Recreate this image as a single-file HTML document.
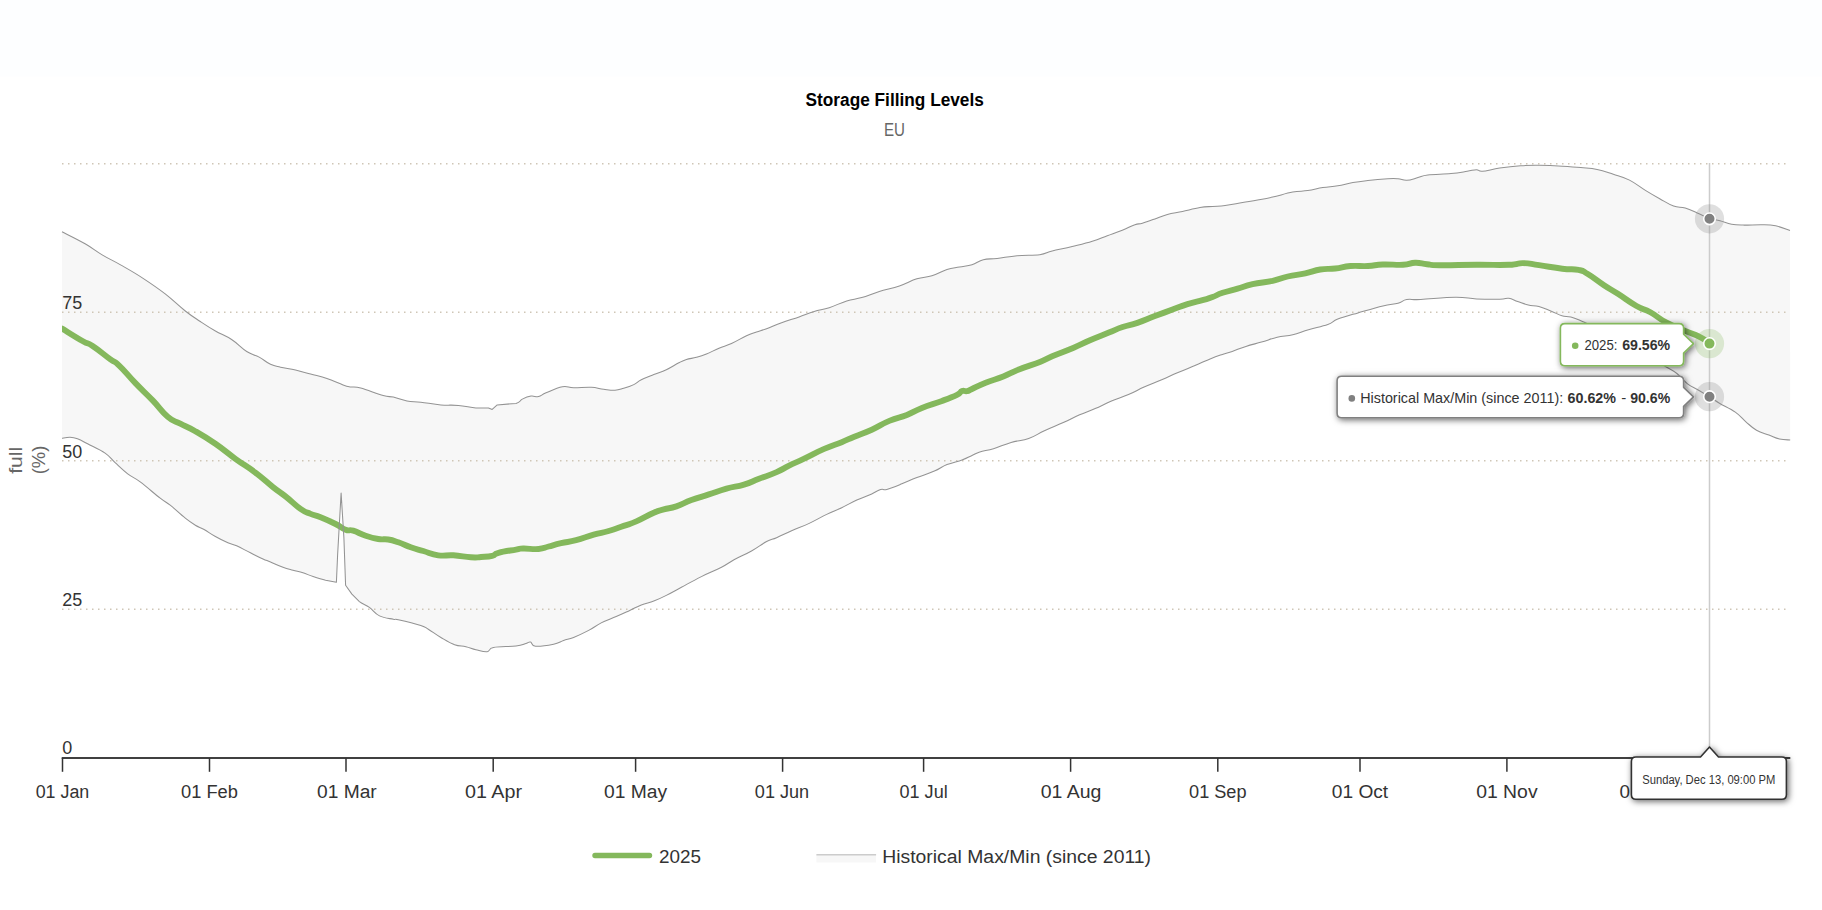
<!DOCTYPE html>
<html><head><meta charset="utf-8"><title>Storage Filling Levels</title>
<style>html,body{margin:0;padding:0;background:#fff;}body{width:1822px;height:910px;overflow:hidden;}svg{display:block;font-family:"Liberation Sans",sans-serif;}</style></head><body>
<svg width="1822" height="910" viewBox="0 0 1822 910">
<defs><clipPath id="plot"><rect x="62" y="150" width="1728" height="608"/></clipPath><filter id="ds" x="-20%" y="-50%" width="140%" height="200%"><feDropShadow dx="1.5" dy="1.5" stdDeviation="3" flood-color="#000000" flood-opacity="0.6"/></filter></defs>
<rect x="0" y="0" width="1822" height="910" fill="#ffffff"/>
<rect x="0" y="0" width="1822" height="76.5" fill="#fdfeff"/>
<path d="M62.0 231.8 C66.6 234.2 77.0 239.1 85.1 243.8 C93.2 248.5 95.6 250.9 102.6 255.1 C109.6 259.3 112.1 260.0 120.1 264.6 C128.1 269.2 133.7 272.2 142.7 278.1 C151.7 284.0 156.7 287.3 165.2 293.9 C173.7 300.5 178.3 305.5 185.3 311.0 C192.3 316.5 194.3 317.5 200.3 321.5 C206.3 325.5 209.1 327.4 215.4 331.0 C221.7 334.6 225.3 335.4 231.6 339.5 C237.9 343.6 241.2 348.0 246.7 351.5 C252.2 355.0 254.4 354.5 259.2 357.1 C264.0 359.7 266.2 362.3 270.5 364.3 C274.8 366.3 275.5 366.1 280.5 367.3 C285.5 368.5 289.5 368.7 295.5 370.1 C301.5 371.5 304.3 372.4 310.6 374.1 C316.9 375.8 320.4 376.2 326.9 378.4 C333.4 380.6 338.3 383.2 343.1 384.9 C347.9 386.6 347.2 386.3 350.7 386.9 C354.2 387.5 354.2 386.4 360.7 388.1 C367.2 389.8 376.7 393.8 383.2 395.6 C389.7 397.4 388.5 396.0 393.3 397.1 C398.1 398.2 401.5 399.9 407.0 400.9 C412.5 401.9 414.0 401.4 420.8 402.2 C427.6 403.0 433.4 404.3 440.9 404.9 C448.4 405.5 451.4 404.8 458.4 405.4 C465.4 406.0 469.9 407.4 475.9 407.9 L488.5 407.9 L492.2 409.4 L497.2 404.9 L516.0 403.4 C521.0 402.2 519.3 400.6 522.3 399.1 C525.3 397.6 527.7 396.6 531.0 396.1 C534.3 395.6 535.6 397.3 538.6 396.6 C541.6 395.9 541.3 394.8 546.1 392.8 C550.9 390.8 556.9 387.8 562.4 386.8 C567.9 385.8 567.8 387.7 573.6 387.8 C579.4 387.9 585.2 387.0 591.2 387.3 C597.2 387.6 598.9 388.7 603.7 389.3 C608.5 389.9 611.0 390.5 615.0 390.3 C619.0 390.1 619.9 389.4 623.7 388.3 C627.5 387.2 630.3 386.3 633.8 384.6 C637.3 382.9 637.3 381.8 641.3 379.8 C645.3 377.8 648.8 376.6 653.8 374.6 C658.8 372.6 661.3 372.2 666.3 369.8 C671.3 367.4 674.9 364.9 678.9 362.8 C682.9 360.7 682.9 360.6 686.4 359.5 C689.9 358.4 692.4 358.4 696.4 357.3 C700.4 356.2 701.9 355.8 706.4 354.0 C710.9 352.2 714.0 350.3 719.0 348.2 C724.0 346.1 726.0 346.0 731.5 343.5 C737.0 341.0 741.5 338.0 746.5 335.7 C751.5 333.4 752.5 333.4 756.5 332.0 C760.5 330.6 761.6 330.6 766.6 328.7 C771.6 326.8 775.1 325.1 781.6 322.7 C788.1 320.3 792.6 319.2 799.1 316.9 C805.6 314.6 808.2 313.2 814.2 311.4 C820.2 309.6 822.7 309.8 829.2 307.7 C835.7 305.6 840.2 302.9 846.7 300.9 C853.2 298.9 855.3 299.5 861.8 297.6 C868.3 295.7 871.8 293.7 879.3 291.4 C886.8 289.1 891.9 288.4 899.4 285.9 C906.9 283.4 910.4 280.8 916.9 278.8 C923.4 276.8 925.9 277.6 931.9 275.8 C937.9 274.0 941.5 271.3 947.0 269.6 C952.5 267.9 954.5 268.1 959.5 267.1 C964.5 266.1 967.2 266.3 972.0 264.8 C976.8 263.3 978.3 261.0 983.3 259.7 C988.3 258.4 990.3 259.3 997.1 258.5 C1003.9 257.7 1008.6 256.5 1017.1 255.7 C1025.6 254.9 1032.7 255.6 1039.7 254.7 C1046.7 253.8 1045.7 252.6 1052.2 251.0 C1058.7 249.4 1064.2 248.5 1072.2 246.5 C1080.2 244.5 1085.3 243.4 1092.3 241.2 C1099.3 239.0 1101.3 237.9 1107.3 235.7 C1113.3 233.5 1116.8 232.4 1122.3 230.2 C1127.8 228.0 1130.9 226.1 1134.9 224.7 C1138.9 223.3 1138.4 224.4 1142.4 223.2 C1146.4 222.0 1149.9 220.7 1154.9 218.9 C1159.9 217.1 1161.9 215.9 1167.4 214.4 C1172.9 212.9 1176.0 212.8 1182.5 211.4 C1189.0 210.0 1194.0 208.6 1200.0 207.6 C1206.0 206.6 1207.5 206.8 1212.5 206.4 C1217.5 206.0 1219.1 206.4 1225.1 205.6 C1231.1 204.8 1236.1 203.7 1242.6 202.6 C1249.1 201.5 1251.6 201.2 1257.6 200.1 C1263.6 199.0 1265.7 198.7 1272.7 197.1 C1279.7 195.5 1285.7 193.4 1292.7 192.1 C1299.7 190.8 1301.8 191.5 1307.8 190.6 C1313.8 189.7 1316.8 188.6 1322.8 187.6 C1328.8 186.6 1331.8 186.8 1337.8 185.8 C1343.8 184.8 1346.9 183.6 1352.9 182.6 C1358.9 181.6 1360.9 181.4 1367.9 180.6 C1374.9 179.8 1381.9 179.2 1387.9 178.8 C1393.9 178.4 1394.2 178.5 1398.0 178.8 C1401.8 179.1 1402.7 180.5 1406.7 180.3 C1410.7 180.1 1413.8 178.7 1418.0 177.6 C1422.2 176.5 1421.2 175.8 1427.8 175.0 C1434.4 174.2 1443.1 174.3 1451.0 173.6 C1458.9 172.9 1462.1 172.1 1467.2 171.3 C1472.3 170.5 1473.5 169.7 1476.5 169.7 C1479.5 169.7 1477.7 171.6 1482.3 171.3 C1486.9 171.0 1492.0 169.2 1499.7 168.1 C1507.4 167.0 1512.7 166.4 1520.6 165.8 C1528.5 165.2 1530.8 165.2 1539.1 165.3 C1547.4 165.4 1554.0 165.7 1562.3 166.2 C1570.6 166.7 1573.8 166.9 1580.8 167.6 C1587.8 168.3 1590.6 168.2 1597.1 169.5 C1603.6 170.8 1606.8 172.2 1613.3 174.3 C1619.8 176.4 1623.0 176.8 1629.5 180.1 C1636.0 183.4 1639.8 186.9 1645.8 190.6 C1651.8 194.3 1654.1 195.6 1659.7 198.7 C1665.3 201.8 1668.5 204.2 1673.6 206.1 C1678.7 208.0 1680.1 206.5 1685.2 208.0 C1690.3 209.5 1694.2 211.7 1699.1 213.8 C1704.0 215.9 1705.3 217.0 1709.5 218.4 C1713.7 219.8 1715.6 219.5 1720.0 220.7 C1724.4 221.9 1727.0 223.3 1731.6 224.2 C1736.2 225.1 1737.1 225.0 1743.1 225.1 C1749.1 225.2 1755.2 224.6 1761.7 224.7 C1768.2 224.8 1769.9 224.6 1775.6 225.8 C1781.3 227.0 1787.1 229.6 1790.0 230.5 L1790.2 440.0 C1788.1 439.8 1783.8 440.0 1779.5 439.0 C1775.2 438.0 1773.5 436.8 1768.9 435.1 C1764.3 433.4 1761.1 433.0 1756.5 430.3 C1751.9 427.6 1750.1 425.4 1745.9 421.8 C1741.7 418.2 1740.6 415.8 1735.3 412.1 C1730.0 408.4 1724.5 406.2 1719.4 403.2 C1714.3 400.2 1713.9 399.6 1709.7 397.0 C1705.5 394.4 1702.6 392.6 1698.2 390.0 C1693.8 387.4 1691.8 387.1 1687.5 383.8 C1683.2 380.5 1681.1 376.9 1676.9 373.5 C1672.7 370.1 1670.7 369.7 1666.3 367.0 C1661.9 364.3 1660.3 363.2 1655.0 360.0 C1649.7 356.8 1647.0 355.1 1640.0 351.0 C1633.0 346.9 1628.0 343.8 1620.0 339.5 C1612.0 335.2 1607.4 333.0 1600.0 329.5 C1592.6 326.0 1589.0 324.3 1583.2 321.8 C1577.4 319.3 1575.1 318.3 1570.8 317.1 C1566.5 315.9 1565.8 316.9 1561.9 315.7 C1558.0 314.5 1555.9 313.0 1551.3 311.2 C1546.7 309.4 1543.5 307.7 1538.9 306.5 C1534.3 305.3 1532.5 306.0 1528.3 305.0 C1524.1 304.0 1521.6 302.8 1517.7 301.5 C1513.8 300.2 1512.3 298.8 1508.8 298.3 C1505.3 297.8 1506.5 299.1 1500.0 299.2 C1493.5 299.3 1485.4 299.3 1476.5 298.9 C1467.6 298.5 1466.7 297.1 1455.6 297.2 C1444.5 297.3 1430.7 299.0 1420.9 299.5 C1411.1 300.0 1411.3 298.8 1406.7 299.6 C1402.1 300.4 1402.8 302.0 1398.0 303.3 C1393.2 304.6 1390.9 304.0 1382.9 305.9 C1374.9 307.8 1366.9 310.3 1357.9 312.9 C1348.9 315.5 1343.8 316.8 1337.8 319.1 C1331.8 321.4 1333.7 322.5 1327.8 324.6 C1321.9 326.7 1315.5 327.7 1308.5 329.7 C1301.5 331.7 1299.1 333.3 1292.8 334.8 C1286.5 336.3 1283.5 335.7 1277.2 337.2 C1270.9 338.7 1267.8 340.3 1261.5 342.1 C1255.2 343.9 1251.8 344.5 1245.9 346.4 C1240.0 348.3 1236.9 349.8 1232.2 351.4 C1227.5 353.0 1226.7 352.9 1222.4 354.4 C1218.1 355.9 1216.2 356.5 1210.7 358.7 C1205.2 360.9 1201.7 362.7 1195.0 365.5 C1188.3 368.3 1184.1 369.9 1177.4 372.8 C1170.7 375.7 1168.4 376.9 1161.7 379.8 C1155.0 382.7 1150.7 384.2 1144.1 387.1 C1137.5 390.0 1135.1 391.7 1128.5 394.5 C1121.9 397.3 1117.6 398.5 1110.9 401.3 C1104.2 404.1 1101.5 405.9 1095.2 408.6 C1088.9 411.3 1085.9 412.1 1079.6 414.8 C1073.3 417.5 1070.9 419.1 1063.9 422.3 C1056.9 425.5 1051.4 427.5 1044.4 430.7 C1037.4 433.9 1035.4 436.2 1028.7 438.5 C1022.0 440.8 1018.1 440.4 1011.1 442.4 C1004.1 444.4 999.8 446.8 993.5 448.7 C987.2 450.6 984.1 450.6 979.8 452.0 C975.5 453.4 975.6 453.9 972.0 455.5 C968.4 457.1 967.0 458.2 962.0 460.0 C957.0 461.8 952.5 462.4 947.0 464.6 C941.5 466.8 940.4 468.5 934.4 471.1 C928.4 473.7 923.4 475.1 916.9 477.6 C910.4 480.1 907.9 481.4 901.9 483.8 C895.9 486.2 891.1 488.2 886.8 489.4 C882.5 490.6 884.1 488.5 880.6 489.6 C877.1 490.7 874.1 493.0 869.3 495.1 C864.5 497.2 862.3 497.6 856.8 500.1 C851.3 502.6 847.7 504.8 841.7 507.7 C835.7 510.6 833.2 511.3 826.7 514.4 C820.2 517.5 816.2 520.1 809.2 523.4 C802.2 526.7 798.1 527.8 791.6 530.7 C785.1 533.6 781.6 535.5 776.6 537.7 C771.6 539.9 771.6 538.8 766.6 541.5 C761.6 544.2 758.0 547.3 751.5 551.0 C745.0 554.7 740.0 556.5 734.0 559.8 C728.0 563.1 728.0 563.9 721.5 567.3 C715.0 570.7 709.4 572.6 701.4 576.6 C693.4 580.6 688.4 583.5 681.4 587.3 C674.4 591.1 671.8 592.6 666.3 595.4 C660.8 598.2 658.8 599.2 653.8 601.1 C648.8 603.0 646.3 602.9 641.3 604.9 C636.3 606.9 633.8 608.6 628.8 610.9 C623.8 613.2 621.7 614.2 616.2 616.6 C610.7 619.0 606.7 620.1 601.2 622.9 C595.7 625.7 594.2 627.5 588.7 630.4 C583.2 633.3 578.6 635.4 573.6 637.4 C568.6 639.4 567.6 639.1 563.6 640.5 C559.6 641.9 559.2 643.1 553.6 644.2 C548.0 645.3 540.1 646.6 535.5 646.2 C530.9 645.8 532.4 642.5 530.5 642.0 C528.6 641.5 528.9 642.7 526.0 643.5 C523.1 644.3 522.5 645.2 516.0 646.0 C509.5 646.8 499.3 646.4 493.5 647.5 C487.7 648.6 490.7 651.3 487.2 651.7 C483.7 652.1 480.2 650.7 475.9 649.7 C471.6 648.7 470.2 647.7 465.9 646.7 C461.6 645.7 459.6 646.5 454.6 644.7 C449.6 642.9 446.2 640.6 440.9 637.5 C435.6 634.4 432.3 631.6 428.3 629.2 C424.3 626.8 426.8 627.3 420.8 625.4 C414.8 623.5 403.8 620.9 398.3 619.7 C392.8 618.5 397.1 620.0 393.3 619.2 C389.5 618.4 384.3 618.3 379.5 615.9 C374.7 613.5 373.4 610.3 369.4 607.4 C365.4 604.5 362.9 604.3 359.4 601.6 L351.9 594.1 L345.6 585.3 L343.9 537.7 L341.1 493.1 L337.6 555.3 L336.4 582.3 L325.6 580.3 C320.9 579.2 317.6 578.1 313.1 576.6 C308.6 575.1 307.0 574.1 303.0 572.8 C299.0 571.5 297.0 571.4 293.0 570.3 C289.0 569.2 287.5 569.0 283.0 567.3 C278.5 565.6 274.5 563.7 270.5 562.0 C266.5 560.3 267.0 560.8 263.0 559.0 C259.0 557.2 255.7 555.4 250.4 552.8 C245.1 550.2 241.1 547.8 236.6 545.8 C232.1 543.8 232.1 544.7 227.9 542.8 C223.7 540.9 220.2 539.2 215.4 536.5 C210.6 533.8 208.1 531.8 204.1 529.5 C200.1 527.2 199.1 527.5 195.3 525.2 C191.5 522.9 190.3 522.2 185.3 518.2 C180.3 514.2 175.2 509.2 170.2 505.2 C165.2 501.2 166.2 502.9 160.2 498.2 C154.2 493.5 146.7 486.8 140.2 481.9 C133.7 477.0 132.7 477.7 127.7 473.8 C122.7 469.9 119.6 466.7 115.1 462.6 C110.6 458.5 110.6 456.9 105.1 453.1 C99.6 449.3 93.1 446.7 87.6 443.8 C82.1 440.9 81.0 440.1 77.5 438.8 C74.0 437.5 73.1 437.4 70.0 437.3 C66.9 437.2 63.6 438.1 62.0 438.3 Z" fill="#f7f7f7" stroke="none"/>
<line x1="62.0" y1="163.8" x2="1790.0" y2="163.8" stroke="#cfc6b6" stroke-width="1.5" stroke-dasharray="1.5 4.5"/>
<line x1="62.0" y1="312.2" x2="1790.0" y2="312.2" stroke="#cfc6b6" stroke-width="1.5" stroke-dasharray="1.5 4.5"/>
<line x1="62.0" y1="460.8" x2="1790.0" y2="460.8" stroke="#cfc6b6" stroke-width="1.5" stroke-dasharray="1.5 4.5"/>
<line x1="62.0" y1="609.3" x2="1790.0" y2="609.3" stroke="#cfc6b6" stroke-width="1.5" stroke-dasharray="1.5 4.5"/>
<line x1="1709.5" y1="163" x2="1709.5" y2="758.0" stroke="#cccccc" stroke-width="1.5"/>
<path d="M62.0 328.5 C67.1 331.6 74.8 336.6 82.5 341.0 C90.2 345.4 85.7 341.5 92.6 346.0 C99.5 350.5 103.5 354.3 110.1 359.1 C116.7 363.9 112.6 359.4 118.9 365.3 C125.2 371.2 126.8 374.1 135.2 382.9 C143.6 391.7 144.6 391.9 152.7 400.4 C160.8 408.8 160.8 410.9 167.7 416.7 C174.6 422.5 173.4 420.1 180.3 423.7 C187.2 427.3 186.5 426.2 195.3 431.2 C204.1 436.2 205.4 436.9 215.4 443.8 C225.4 450.7 225.4 451.6 235.4 458.8 C245.4 466.0 246.0 465.5 255.4 472.6 C264.8 479.7 265.5 481.2 273.0 487.1 C280.5 493.1 278.6 490.9 285.5 496.4 C292.4 501.8 294.2 504.5 300.5 508.9 C306.8 513.3 305.6 511.8 310.6 513.9 C315.6 516.0 314.4 514.7 320.6 517.2 C326.9 519.7 329.4 520.9 335.6 524.0 C341.9 527.1 341.2 528.0 345.6 529.7 C350.0 531.4 348.2 529.2 353.2 530.7 C358.2 532.2 359.4 533.6 365.7 535.7 C371.9 537.8 372.6 538.0 378.2 539.0 C383.8 540.0 383.2 538.7 388.2 539.5 C393.2 540.3 392.6 540.3 398.3 542.3 C404.0 544.2 404.6 545.1 410.8 547.3 C417.1 549.5 416.4 549.0 423.3 551.0 C430.2 553.0 430.8 554.2 438.3 555.3 C445.8 556.4 445.2 554.8 453.4 555.3 C461.5 555.8 464.0 556.9 470.9 557.3 C477.8 557.7 475.7 557.4 481.0 557.0 C486.3 556.6 487.8 556.8 492.2 555.8 C496.6 554.8 492.6 554.3 498.5 552.8 C504.4 551.2 509.8 550.7 516.0 549.6 C522.2 548.5 517.9 548.6 523.5 548.5 C529.1 548.4 532.3 549.5 538.6 549.0 C544.9 548.5 543.0 548.0 548.6 546.5 C554.2 545.0 554.2 544.8 561.1 543.2 C568.0 541.6 568.0 542.3 576.1 540.2 C584.2 538.1 585.6 537.0 593.7 534.7 C601.9 532.4 601.2 533.2 608.7 531.0 C616.2 528.8 616.8 528.3 623.7 525.9 C630.6 523.5 628.8 524.7 636.3 521.4 C643.8 518.1 646.9 515.7 653.8 512.7 C660.7 509.7 658.1 511.0 663.8 509.4 C669.4 507.8 669.5 508.7 676.4 506.4 C683.3 504.1 683.3 503.1 691.4 500.1 C699.5 497.1 700.1 497.3 708.9 494.4 C717.7 491.5 717.7 491.1 726.5 488.6 C735.3 486.2 735.9 487.1 744.0 484.6 C752.1 482.2 750.9 481.9 759.0 478.8 C767.1 475.7 769.1 475.4 776.6 472.1 C784.1 468.8 782.2 469.0 789.1 465.6 C796.0 462.2 795.4 462.8 804.2 458.6 C813.0 454.4 814.8 453.0 824.2 448.9 C833.6 444.8 834.2 445.2 841.7 442.2 C849.2 439.1 846.8 439.8 854.3 436.7 C861.8 433.6 863.0 433.6 871.8 429.7 C880.5 425.8 880.5 424.6 889.3 420.9 C898.1 417.2 898.8 418.1 906.9 414.9 C915.0 411.6 913.1 411.4 921.9 407.9 C930.7 404.4 933.2 404.2 942.0 400.9 C950.8 397.6 952.0 397.2 957.0 394.8 C962.0 392.4 959.5 392.0 962.0 391.1 C964.5 390.2 964.5 391.6 967.0 391.1 C969.5 390.6 967.3 391.1 972.0 389.0 C976.7 386.9 977.9 385.8 985.7 382.7 C993.5 379.6 995.0 379.8 1003.3 376.5 C1011.6 373.2 1009.6 373.2 1018.9 369.5 C1028.2 365.8 1032.2 365.1 1040.5 361.8 C1048.8 358.5 1043.9 359.7 1052.2 356.2 C1060.5 352.7 1064.4 351.6 1073.7 347.7 C1083.0 343.8 1080.6 344.3 1089.4 340.5 C1098.2 336.7 1100.6 336.0 1108.9 332.6 C1117.2 329.2 1115.5 329.4 1122.6 327.0 C1129.7 324.6 1129.3 325.6 1137.4 322.9 C1145.5 320.2 1146.1 319.4 1154.9 316.1 C1163.7 312.8 1164.3 312.6 1172.5 309.6 C1180.7 306.6 1180.0 306.5 1187.5 304.1 C1195.0 301.8 1196.2 301.9 1202.5 300.2 C1208.8 298.4 1207.5 299.0 1212.5 297.1 C1217.5 295.2 1216.3 294.9 1222.6 292.8 C1228.9 290.7 1230.1 290.8 1237.6 288.6 C1245.1 286.4 1243.8 286.1 1252.6 284.1 C1261.4 282.2 1263.9 282.7 1272.7 280.8 C1281.5 278.9 1279.6 278.4 1287.7 276.5 C1295.8 274.6 1297.2 275.1 1305.3 273.3 C1313.4 271.6 1312.8 270.7 1320.3 269.5 C1327.8 268.3 1327.8 269.4 1335.3 268.5 C1342.8 267.6 1342.2 266.6 1350.4 266.0 C1358.6 265.4 1359.8 266.4 1367.9 266.0 C1376.0 265.6 1374.1 264.8 1382.9 264.5 C1391.7 264.2 1395.0 265.2 1403.0 264.8 C1411.0 264.4 1409.1 263.0 1415.1 262.8 C1421.1 262.6 1420.9 263.6 1427.0 264.2 C1433.1 264.8 1427.0 265.0 1439.4 265.2 C1451.8 265.4 1459.1 264.9 1476.5 264.8 C1493.9 264.7 1497.4 265.2 1509.0 264.8 C1520.6 264.4 1515.4 263.0 1522.9 263.1 C1530.4 263.2 1529.2 263.8 1539.1 265.2 C1548.9 266.6 1552.4 267.5 1562.3 268.7 C1572.2 269.9 1572.1 268.6 1578.5 269.9 C1584.9 271.2 1581.4 270.2 1587.8 274.0 C1594.2 277.8 1596.5 280.2 1604.0 285.2 C1611.5 290.1 1609.8 288.6 1617.9 293.8 C1626.0 299.0 1628.4 301.4 1636.5 306.0 C1644.6 310.6 1642.9 308.1 1650.4 312.3 C1657.9 316.5 1657.9 318.1 1666.6 322.7 C1675.3 327.3 1677.1 327.4 1685.2 330.9 C1693.3 334.4 1693.0 333.6 1699.1 336.6 C1705.2 339.6 1706.9 341.3 1709.5 342.9" fill="none" stroke="#84b85c" stroke-width="5.9" stroke-linejoin="round" stroke-linecap="round" clip-path="url(#plot)"/>
<path d="M62.0 231.8 C66.6 234.2 77.0 239.1 85.1 243.8 C93.2 248.5 95.6 250.9 102.6 255.1 C109.6 259.3 112.1 260.0 120.1 264.6 C128.1 269.2 133.7 272.2 142.7 278.1 C151.7 284.0 156.7 287.3 165.2 293.9 C173.7 300.5 178.3 305.5 185.3 311.0 C192.3 316.5 194.3 317.5 200.3 321.5 C206.3 325.5 209.1 327.4 215.4 331.0 C221.7 334.6 225.3 335.4 231.6 339.5 C237.9 343.6 241.2 348.0 246.7 351.5 C252.2 355.0 254.4 354.5 259.2 357.1 C264.0 359.7 266.2 362.3 270.5 364.3 C274.8 366.3 275.5 366.1 280.5 367.3 C285.5 368.5 289.5 368.7 295.5 370.1 C301.5 371.5 304.3 372.4 310.6 374.1 C316.9 375.8 320.4 376.2 326.9 378.4 C333.4 380.6 338.3 383.2 343.1 384.9 C347.9 386.6 347.2 386.3 350.7 386.9 C354.2 387.5 354.2 386.4 360.7 388.1 C367.2 389.8 376.7 393.8 383.2 395.6 C389.7 397.4 388.5 396.0 393.3 397.1 C398.1 398.2 401.5 399.9 407.0 400.9 C412.5 401.9 414.0 401.4 420.8 402.2 C427.6 403.0 433.4 404.3 440.9 404.9 C448.4 405.5 451.4 404.8 458.4 405.4 C465.4 406.0 469.9 407.4 475.9 407.9 L488.5 407.9 L492.2 409.4 L497.2 404.9 L516.0 403.4 C521.0 402.2 519.3 400.6 522.3 399.1 C525.3 397.6 527.7 396.6 531.0 396.1 C534.3 395.6 535.6 397.3 538.6 396.6 C541.6 395.9 541.3 394.8 546.1 392.8 C550.9 390.8 556.9 387.8 562.4 386.8 C567.9 385.8 567.8 387.7 573.6 387.8 C579.4 387.9 585.2 387.0 591.2 387.3 C597.2 387.6 598.9 388.7 603.7 389.3 C608.5 389.9 611.0 390.5 615.0 390.3 C619.0 390.1 619.9 389.4 623.7 388.3 C627.5 387.2 630.3 386.3 633.8 384.6 C637.3 382.9 637.3 381.8 641.3 379.8 C645.3 377.8 648.8 376.6 653.8 374.6 C658.8 372.6 661.3 372.2 666.3 369.8 C671.3 367.4 674.9 364.9 678.9 362.8 C682.9 360.7 682.9 360.6 686.4 359.5 C689.9 358.4 692.4 358.4 696.4 357.3 C700.4 356.2 701.9 355.8 706.4 354.0 C710.9 352.2 714.0 350.3 719.0 348.2 C724.0 346.1 726.0 346.0 731.5 343.5 C737.0 341.0 741.5 338.0 746.5 335.7 C751.5 333.4 752.5 333.4 756.5 332.0 C760.5 330.6 761.6 330.6 766.6 328.7 C771.6 326.8 775.1 325.1 781.6 322.7 C788.1 320.3 792.6 319.2 799.1 316.9 C805.6 314.6 808.2 313.2 814.2 311.4 C820.2 309.6 822.7 309.8 829.2 307.7 C835.7 305.6 840.2 302.9 846.7 300.9 C853.2 298.9 855.3 299.5 861.8 297.6 C868.3 295.7 871.8 293.7 879.3 291.4 C886.8 289.1 891.9 288.4 899.4 285.9 C906.9 283.4 910.4 280.8 916.9 278.8 C923.4 276.8 925.9 277.6 931.9 275.8 C937.9 274.0 941.5 271.3 947.0 269.6 C952.5 267.9 954.5 268.1 959.5 267.1 C964.5 266.1 967.2 266.3 972.0 264.8 C976.8 263.3 978.3 261.0 983.3 259.7 C988.3 258.4 990.3 259.3 997.1 258.5 C1003.9 257.7 1008.6 256.5 1017.1 255.7 C1025.6 254.9 1032.7 255.6 1039.7 254.7 C1046.7 253.8 1045.7 252.6 1052.2 251.0 C1058.7 249.4 1064.2 248.5 1072.2 246.5 C1080.2 244.5 1085.3 243.4 1092.3 241.2 C1099.3 239.0 1101.3 237.9 1107.3 235.7 C1113.3 233.5 1116.8 232.4 1122.3 230.2 C1127.8 228.0 1130.9 226.1 1134.9 224.7 C1138.9 223.3 1138.4 224.4 1142.4 223.2 C1146.4 222.0 1149.9 220.7 1154.9 218.9 C1159.9 217.1 1161.9 215.9 1167.4 214.4 C1172.9 212.9 1176.0 212.8 1182.5 211.4 C1189.0 210.0 1194.0 208.6 1200.0 207.6 C1206.0 206.6 1207.5 206.8 1212.5 206.4 C1217.5 206.0 1219.1 206.4 1225.1 205.6 C1231.1 204.8 1236.1 203.7 1242.6 202.6 C1249.1 201.5 1251.6 201.2 1257.6 200.1 C1263.6 199.0 1265.7 198.7 1272.7 197.1 C1279.7 195.5 1285.7 193.4 1292.7 192.1 C1299.7 190.8 1301.8 191.5 1307.8 190.6 C1313.8 189.7 1316.8 188.6 1322.8 187.6 C1328.8 186.6 1331.8 186.8 1337.8 185.8 C1343.8 184.8 1346.9 183.6 1352.9 182.6 C1358.9 181.6 1360.9 181.4 1367.9 180.6 C1374.9 179.8 1381.9 179.2 1387.9 178.8 C1393.9 178.4 1394.2 178.5 1398.0 178.8 C1401.8 179.1 1402.7 180.5 1406.7 180.3 C1410.7 180.1 1413.8 178.7 1418.0 177.6 C1422.2 176.5 1421.2 175.8 1427.8 175.0 C1434.4 174.2 1443.1 174.3 1451.0 173.6 C1458.9 172.9 1462.1 172.1 1467.2 171.3 C1472.3 170.5 1473.5 169.7 1476.5 169.7 C1479.5 169.7 1477.7 171.6 1482.3 171.3 C1486.9 171.0 1492.0 169.2 1499.7 168.1 C1507.4 167.0 1512.7 166.4 1520.6 165.8 C1528.5 165.2 1530.8 165.2 1539.1 165.3 C1547.4 165.4 1554.0 165.7 1562.3 166.2 C1570.6 166.7 1573.8 166.9 1580.8 167.6 C1587.8 168.3 1590.6 168.2 1597.1 169.5 C1603.6 170.8 1606.8 172.2 1613.3 174.3 C1619.8 176.4 1623.0 176.8 1629.5 180.1 C1636.0 183.4 1639.8 186.9 1645.8 190.6 C1651.8 194.3 1654.1 195.6 1659.7 198.7 C1665.3 201.8 1668.5 204.2 1673.6 206.1 C1678.7 208.0 1680.1 206.5 1685.2 208.0 C1690.3 209.5 1694.2 211.7 1699.1 213.8 C1704.0 215.9 1705.3 217.0 1709.5 218.4 C1713.7 219.8 1715.6 219.5 1720.0 220.7 C1724.4 221.9 1727.0 223.3 1731.6 224.2 C1736.2 225.1 1737.1 225.0 1743.1 225.1 C1749.1 225.2 1755.2 224.6 1761.7 224.7 C1768.2 224.8 1769.9 224.6 1775.6 225.8 C1781.3 227.0 1787.1 229.6 1790.0 230.5" fill="none" stroke="#939393" stroke-width="1.05" stroke-linejoin="round"/>
<path d="M62.0 438.3 C63.6 438.1 66.9 437.2 70.0 437.3 C73.1 437.4 74.0 437.5 77.5 438.8 C81.0 440.1 82.1 440.9 87.6 443.8 C93.1 446.7 99.6 449.3 105.1 453.1 C110.6 456.9 110.6 458.5 115.1 462.6 C119.6 466.7 122.7 469.9 127.7 473.8 C132.7 477.7 133.7 477.0 140.2 481.9 C146.7 486.8 154.2 493.5 160.2 498.2 C166.2 502.9 165.2 501.2 170.2 505.2 C175.2 509.2 180.3 514.2 185.3 518.2 C190.3 522.2 191.5 522.9 195.3 525.2 C199.1 527.5 200.1 527.2 204.1 529.5 C208.1 531.8 210.6 533.8 215.4 536.5 C220.2 539.2 223.7 540.9 227.9 542.8 C232.1 544.7 232.1 543.8 236.6 545.8 C241.1 547.8 245.1 550.2 250.4 552.8 C255.7 555.4 259.0 557.2 263.0 559.0 C267.0 560.8 266.5 560.3 270.5 562.0 C274.5 563.7 278.5 565.6 283.0 567.3 C287.5 569.0 289.0 569.2 293.0 570.3 C297.0 571.4 299.0 571.5 303.0 572.8 C307.0 574.1 308.6 575.1 313.1 576.6 C317.6 578.1 320.9 579.2 325.6 580.3 L336.4 582.3 L337.6 555.3 L341.1 493.1 L343.9 537.7 L345.6 585.3 L351.9 594.1 L359.4 601.6 C362.9 604.3 365.4 604.5 369.4 607.4 C373.4 610.3 374.7 613.5 379.5 615.9 C384.3 618.3 389.5 618.4 393.3 619.2 C397.1 620.0 392.8 618.5 398.3 619.7 C403.8 620.9 414.8 623.5 420.8 625.4 C426.8 627.3 424.3 626.8 428.3 629.2 C432.3 631.6 435.6 634.4 440.9 637.5 C446.2 640.6 449.6 642.9 454.6 644.7 C459.6 646.5 461.6 645.7 465.9 646.7 C470.2 647.7 471.6 648.7 475.9 649.7 C480.2 650.7 483.7 652.1 487.2 651.7 C490.7 651.3 487.7 648.6 493.5 647.5 C499.3 646.4 509.5 646.8 516.0 646.0 C522.5 645.2 523.1 644.3 526.0 643.5 C528.9 642.7 528.6 641.5 530.5 642.0 C532.4 642.5 530.9 645.8 535.5 646.2 C540.1 646.6 548.0 645.3 553.6 644.2 C559.2 643.1 559.6 641.9 563.6 640.5 C567.6 639.1 568.6 639.4 573.6 637.4 C578.6 635.4 583.2 633.3 588.7 630.4 C594.2 627.5 595.7 625.7 601.2 622.9 C606.7 620.1 610.7 619.0 616.2 616.6 C621.7 614.2 623.8 613.2 628.8 610.9 C633.8 608.6 636.3 606.9 641.3 604.9 C646.3 602.9 648.8 603.0 653.8 601.1 C658.8 599.2 660.8 598.2 666.3 595.4 C671.8 592.6 674.4 591.1 681.4 587.3 C688.4 583.5 693.4 580.6 701.4 576.6 C709.4 572.6 715.0 570.7 721.5 567.3 C728.0 563.9 728.0 563.1 734.0 559.8 C740.0 556.5 745.0 554.7 751.5 551.0 C758.0 547.3 761.6 544.2 766.6 541.5 C771.6 538.8 771.6 539.9 776.6 537.7 C781.6 535.5 785.1 533.6 791.6 530.7 C798.1 527.8 802.2 526.7 809.2 523.4 C816.2 520.1 820.2 517.5 826.7 514.4 C833.2 511.3 835.7 510.6 841.7 507.7 C847.7 504.8 851.3 502.6 856.8 500.1 C862.3 497.6 864.5 497.2 869.3 495.1 C874.1 493.0 877.1 490.7 880.6 489.6 C884.1 488.5 882.5 490.6 886.8 489.4 C891.1 488.2 895.9 486.2 901.9 483.8 C907.9 481.4 910.4 480.1 916.9 477.6 C923.4 475.1 928.4 473.7 934.4 471.1 C940.4 468.5 941.5 466.8 947.0 464.6 C952.5 462.4 957.0 461.8 962.0 460.0 C967.0 458.2 968.4 457.1 972.0 455.5 C975.6 453.9 975.5 453.4 979.8 452.0 C984.1 450.6 987.2 450.6 993.5 448.7 C999.8 446.8 1004.1 444.4 1011.1 442.4 C1018.1 440.4 1022.0 440.8 1028.7 438.5 C1035.4 436.2 1037.4 433.9 1044.4 430.7 C1051.4 427.5 1056.9 425.5 1063.9 422.3 C1070.9 419.1 1073.3 417.5 1079.6 414.8 C1085.9 412.1 1088.9 411.3 1095.2 408.6 C1101.5 405.9 1104.2 404.1 1110.9 401.3 C1117.6 398.5 1121.9 397.3 1128.5 394.5 C1135.1 391.7 1137.5 390.0 1144.1 387.1 C1150.7 384.2 1155.0 382.7 1161.7 379.8 C1168.4 376.9 1170.7 375.7 1177.4 372.8 C1184.1 369.9 1188.3 368.3 1195.0 365.5 C1201.7 362.7 1205.2 360.9 1210.7 358.7 C1216.2 356.5 1218.1 355.9 1222.4 354.4 C1226.7 352.9 1227.5 353.0 1232.2 351.4 C1236.9 349.8 1240.0 348.3 1245.9 346.4 C1251.8 344.5 1255.2 343.9 1261.5 342.1 C1267.8 340.3 1270.9 338.7 1277.2 337.2 C1283.5 335.7 1286.5 336.3 1292.8 334.8 C1299.1 333.3 1301.5 331.7 1308.5 329.7 C1315.5 327.7 1321.9 326.7 1327.8 324.6 C1333.7 322.5 1331.8 321.4 1337.8 319.1 C1343.8 316.8 1348.9 315.5 1357.9 312.9 C1366.9 310.3 1374.9 307.8 1382.9 305.9 C1390.9 304.0 1393.2 304.6 1398.0 303.3 C1402.8 302.0 1402.1 300.4 1406.7 299.6 C1411.3 298.8 1411.1 300.0 1420.9 299.5 C1430.7 299.0 1444.5 297.3 1455.6 297.2 C1466.7 297.1 1467.6 298.5 1476.5 298.9 C1485.4 299.3 1493.5 299.3 1500.0 299.2 C1506.5 299.1 1505.3 297.8 1508.8 298.3 C1512.3 298.8 1513.8 300.2 1517.7 301.5 C1521.6 302.8 1524.1 304.0 1528.3 305.0 C1532.5 306.0 1534.3 305.3 1538.9 306.5 C1543.5 307.7 1546.7 309.4 1551.3 311.2 C1555.9 313.0 1558.0 314.5 1561.9 315.7 C1565.8 316.9 1566.5 315.9 1570.8 317.1 C1575.1 318.3 1577.4 319.3 1583.2 321.8 C1589.0 324.3 1592.6 326.0 1600.0 329.5 C1607.4 333.0 1612.0 335.2 1620.0 339.5 C1628.0 343.8 1633.0 346.9 1640.0 351.0 C1647.0 355.1 1649.7 356.8 1655.0 360.0 C1660.3 363.2 1661.9 364.3 1666.3 367.0 C1670.7 369.7 1672.7 370.1 1676.9 373.5 C1681.1 376.9 1683.2 380.5 1687.5 383.8 C1691.8 387.1 1693.8 387.4 1698.2 390.0 C1702.6 392.6 1705.5 394.4 1709.7 397.0 C1713.9 399.6 1714.3 400.2 1719.4 403.2 C1724.5 406.2 1730.0 408.4 1735.3 412.1 C1740.6 415.8 1741.7 418.2 1745.9 421.8 C1750.1 425.4 1751.9 427.6 1756.5 430.3 C1761.1 433.0 1764.3 433.4 1768.9 435.1 C1773.5 436.8 1775.2 438.0 1779.5 439.0 C1783.8 440.0 1788.1 439.8 1790.2 440.0" fill="none" stroke="#939393" stroke-width="1.05" stroke-linejoin="round"/>
<line x1="61.7" y1="758.0" x2="1790.3" y2="758.0" stroke="#000000" stroke-width="1.7"/>
<line x1="62.5" y1="758.0" x2="62.5" y2="771.8" stroke="#333333" stroke-width="1.5"/>
<line x1="209.5" y1="758.0" x2="209.5" y2="771.8" stroke="#333333" stroke-width="1.5"/>
<line x1="346.0" y1="758.0" x2="346.0" y2="771.8" stroke="#333333" stroke-width="1.5"/>
<line x1="493.2" y1="758.0" x2="493.2" y2="771.8" stroke="#333333" stroke-width="1.5"/>
<line x1="635.6" y1="758.0" x2="635.6" y2="771.8" stroke="#333333" stroke-width="1.5"/>
<line x1="782.6" y1="758.0" x2="782.6" y2="771.8" stroke="#333333" stroke-width="1.5"/>
<line x1="923.6" y1="758.0" x2="923.6" y2="771.8" stroke="#333333" stroke-width="1.5"/>
<line x1="1070.6" y1="758.0" x2="1070.6" y2="771.8" stroke="#333333" stroke-width="1.5"/>
<line x1="1217.8" y1="758.0" x2="1217.8" y2="771.8" stroke="#333333" stroke-width="1.5"/>
<line x1="1360.0" y1="758.0" x2="1360.0" y2="771.8" stroke="#333333" stroke-width="1.5"/>
<line x1="1506.9" y1="758.0" x2="1506.9" y2="771.8" stroke="#333333" stroke-width="1.5"/>
<line x1="1649.3" y1="758.0" x2="1649.3" y2="771.8" stroke="#333333" stroke-width="1.5"/>
<text x="62.5" y="797.8" text-anchor="middle" font-size="18" fill="#333333" textLength="53.6" lengthAdjust="spacingAndGlyphs">01 Jan</text>
<text x="209.5" y="797.8" text-anchor="middle" font-size="18" fill="#333333" textLength="56.9" lengthAdjust="spacingAndGlyphs">01 Feb</text>
<text x="346.9" y="797.8" text-anchor="middle" font-size="18" fill="#333333" textLength="59.7" lengthAdjust="spacingAndGlyphs">01 Mar</text>
<text x="493.5" y="797.8" text-anchor="middle" font-size="18" fill="#333333" textLength="57.0" lengthAdjust="spacingAndGlyphs">01 Apr</text>
<text x="635.6" y="797.8" text-anchor="middle" font-size="18" fill="#333333" textLength="63.1" lengthAdjust="spacingAndGlyphs">01 May</text>
<text x="782.0" y="797.8" text-anchor="middle" font-size="18" fill="#333333" textLength="54.3" lengthAdjust="spacingAndGlyphs">01 Jun</text>
<text x="923.6" y="797.8" text-anchor="middle" font-size="18" fill="#333333" textLength="48.2" lengthAdjust="spacingAndGlyphs">01 Jul</text>
<text x="1071.1" y="797.8" text-anchor="middle" font-size="18" fill="#333333" textLength="60.7" lengthAdjust="spacingAndGlyphs">01 Aug</text>
<text x="1217.8" y="797.8" text-anchor="middle" font-size="18" fill="#333333" textLength="57.5" lengthAdjust="spacingAndGlyphs">01 Sep</text>
<text x="1360.0" y="797.8" text-anchor="middle" font-size="18" fill="#333333" textLength="56.4" lengthAdjust="spacingAndGlyphs">01 Oct</text>
<text x="1506.9" y="797.8" text-anchor="middle" font-size="18" fill="#333333" textLength="61.4" lengthAdjust="spacingAndGlyphs">01 Nov</text>
<text x="1649.3" y="797.8" text-anchor="middle" font-size="18" fill="#333333" textLength="59.8" lengthAdjust="spacingAndGlyphs">01 Dec</text>
<text x="62.2" y="309.0" font-size="18" fill="#333333" textLength="20.0" lengthAdjust="spacingAndGlyphs">75</text>
<text x="62.2" y="457.6" font-size="18" fill="#333333" textLength="20.0" lengthAdjust="spacingAndGlyphs">50</text>
<text x="62.2" y="606.1" font-size="18" fill="#333333" textLength="20.0" lengthAdjust="spacingAndGlyphs">25</text>
<text x="62.2" y="754.0" font-size="18" fill="#333333" textLength="10.0" lengthAdjust="spacingAndGlyphs">0</text>
<text transform="translate(22 460.3) rotate(-90)" text-anchor="middle" font-size="18" fill="#666666" textLength="27" lengthAdjust="spacingAndGlyphs">full</text>
<text transform="translate(45.3 460) rotate(-90)" text-anchor="middle" font-size="18" fill="#666666" textLength="28.6" lengthAdjust="spacingAndGlyphs">(%)</text>
<text x="894.7" y="106.1" text-anchor="middle" font-size="18" font-weight="bold" fill="#000000" textLength="178.3" lengthAdjust="spacingAndGlyphs">Storage Filling Levels</text>
<text x="894.4" y="135.8" text-anchor="middle" font-size="18" fill="#666666" textLength="21" lengthAdjust="spacingAndGlyphs">EU</text>
<line x1="595" y1="855.5" x2="649.5" y2="855.5" stroke="#84b85c" stroke-width="5.4" stroke-linecap="round"/>
<text x="658.9" y="862.6" font-size="18" fill="#333333" textLength="42" lengthAdjust="spacingAndGlyphs">2025</text>
<rect x="816.4" y="855" width="59.7" height="7.5" fill="#f7f7f7"/>
<line x1="816.4" y1="854.8" x2="876.1" y2="854.8" stroke="#cccccc" stroke-width="1.6"/>
<text x="882.2" y="862.6" font-size="18" fill="#333333" textLength="268.8" lengthAdjust="spacingAndGlyphs">Historical Max/Min (since 2011)</text>
<circle cx="1709.5" cy="218.8" r="14.6" fill="#808080" fill-opacity="0.25"/>
<circle cx="1709.5" cy="218.8" r="5.8" fill="#808080" stroke="#ffffff" stroke-width="1.6"/>
<circle cx="1709.5" cy="396.7" r="14.6" fill="#808080" fill-opacity="0.25"/>
<circle cx="1709.5" cy="396.7" r="5.8" fill="#808080" stroke="#ffffff" stroke-width="1.6"/>
<circle cx="1709.5" cy="343.6" r="14.6" fill="#84b85c" fill-opacity="0.25"/>
<circle cx="1709.5" cy="343.6" r="5.8" fill="#84b85c" stroke="#ffffff" stroke-width="1.6"/>
<path d="M1341.6 376.2 L1679.1 376.2 Q1683.6 376.2 1683.6 380.7 L1683.6 387.3 L1693.5 396.8 L1683.6 406.3 L1683.6 413.2 Q1683.6 417.7 1679.1 417.7 L1341.6 417.7 Q1337.1 417.7 1337.1 413.2 L1337.1 380.7 Q1337.1 376.2 1341.6 376.2 Z" fill="#ffffff" stroke="#808080" stroke-width="1.6" stroke-linejoin="round" filter="url(#ds)"/>
<circle cx="1351.8" cy="398.4" r="3.3" fill="#808080"/>
<text x="1360.2" y="403.4" font-size="15" fill="#333333" textLength="203" lengthAdjust="spacingAndGlyphs">Historical Max/Min (since 2011):</text>
<text x="1567.5" y="403.4" font-size="15" fill="#333333" font-weight="bold" textLength="48.5" lengthAdjust="spacingAndGlyphs">60.62%</text>
<text x="1621.2" y="403.4" font-size="15" fill="#333333">-</text>
<text x="1630.2" y="403.4" font-size="15" fill="#333333" font-weight="bold" textLength="40" lengthAdjust="spacingAndGlyphs">90.6%</text>
<path d="M1564.9 323.6 L1679.1 323.6 Q1683.6 323.6 1683.6 328.1 L1683.6 334.1 L1693.5 343.6 L1683.6 353.1 L1683.6 361.2 Q1683.6 365.7 1679.1 365.7 L1564.9 365.7 Q1560.4 365.7 1560.4 361.2 L1560.4 328.1 Q1560.4 323.6 1564.9 323.6 Z" fill="#ffffff" stroke="#84b85c" stroke-width="1.6" stroke-linejoin="round" filter="url(#ds)"/>
<circle cx="1575.2" cy="345.8" r="3.3" fill="#84b85c"/>
<text x="1584.4" y="350.2" font-size="15" fill="#333333" textLength="33" lengthAdjust="spacingAndGlyphs">2025:</text>
<text x="1622.2" y="350.2" font-size="15" fill="#333333" font-weight="bold" textLength="48" lengthAdjust="spacingAndGlyphs">69.56%</text>
<path d="M1635.9 757.0 L1700.5 757.0 L1709.5 747.0 L1718.5 757.0 L1781.9 757.0 Q1786.4 757.0 1786.4 761.5 L1786.4 794.8 Q1786.4 799.3 1781.9 799.3 L1635.9 799.3 Q1631.4 799.3 1631.4 794.8 L1631.4 761.5 Q1631.4 757.0 1635.9 757.0 Z" fill="#ffffff" stroke="#333333" stroke-width="1.6" stroke-linejoin="round" filter="url(#ds)"/>
<text x="1642.2" y="784.1" font-size="12" fill="#333333" textLength="133.2" lengthAdjust="spacingAndGlyphs">Sunday, Dec 13, 09:00 PM</text>
</svg></body></html>
